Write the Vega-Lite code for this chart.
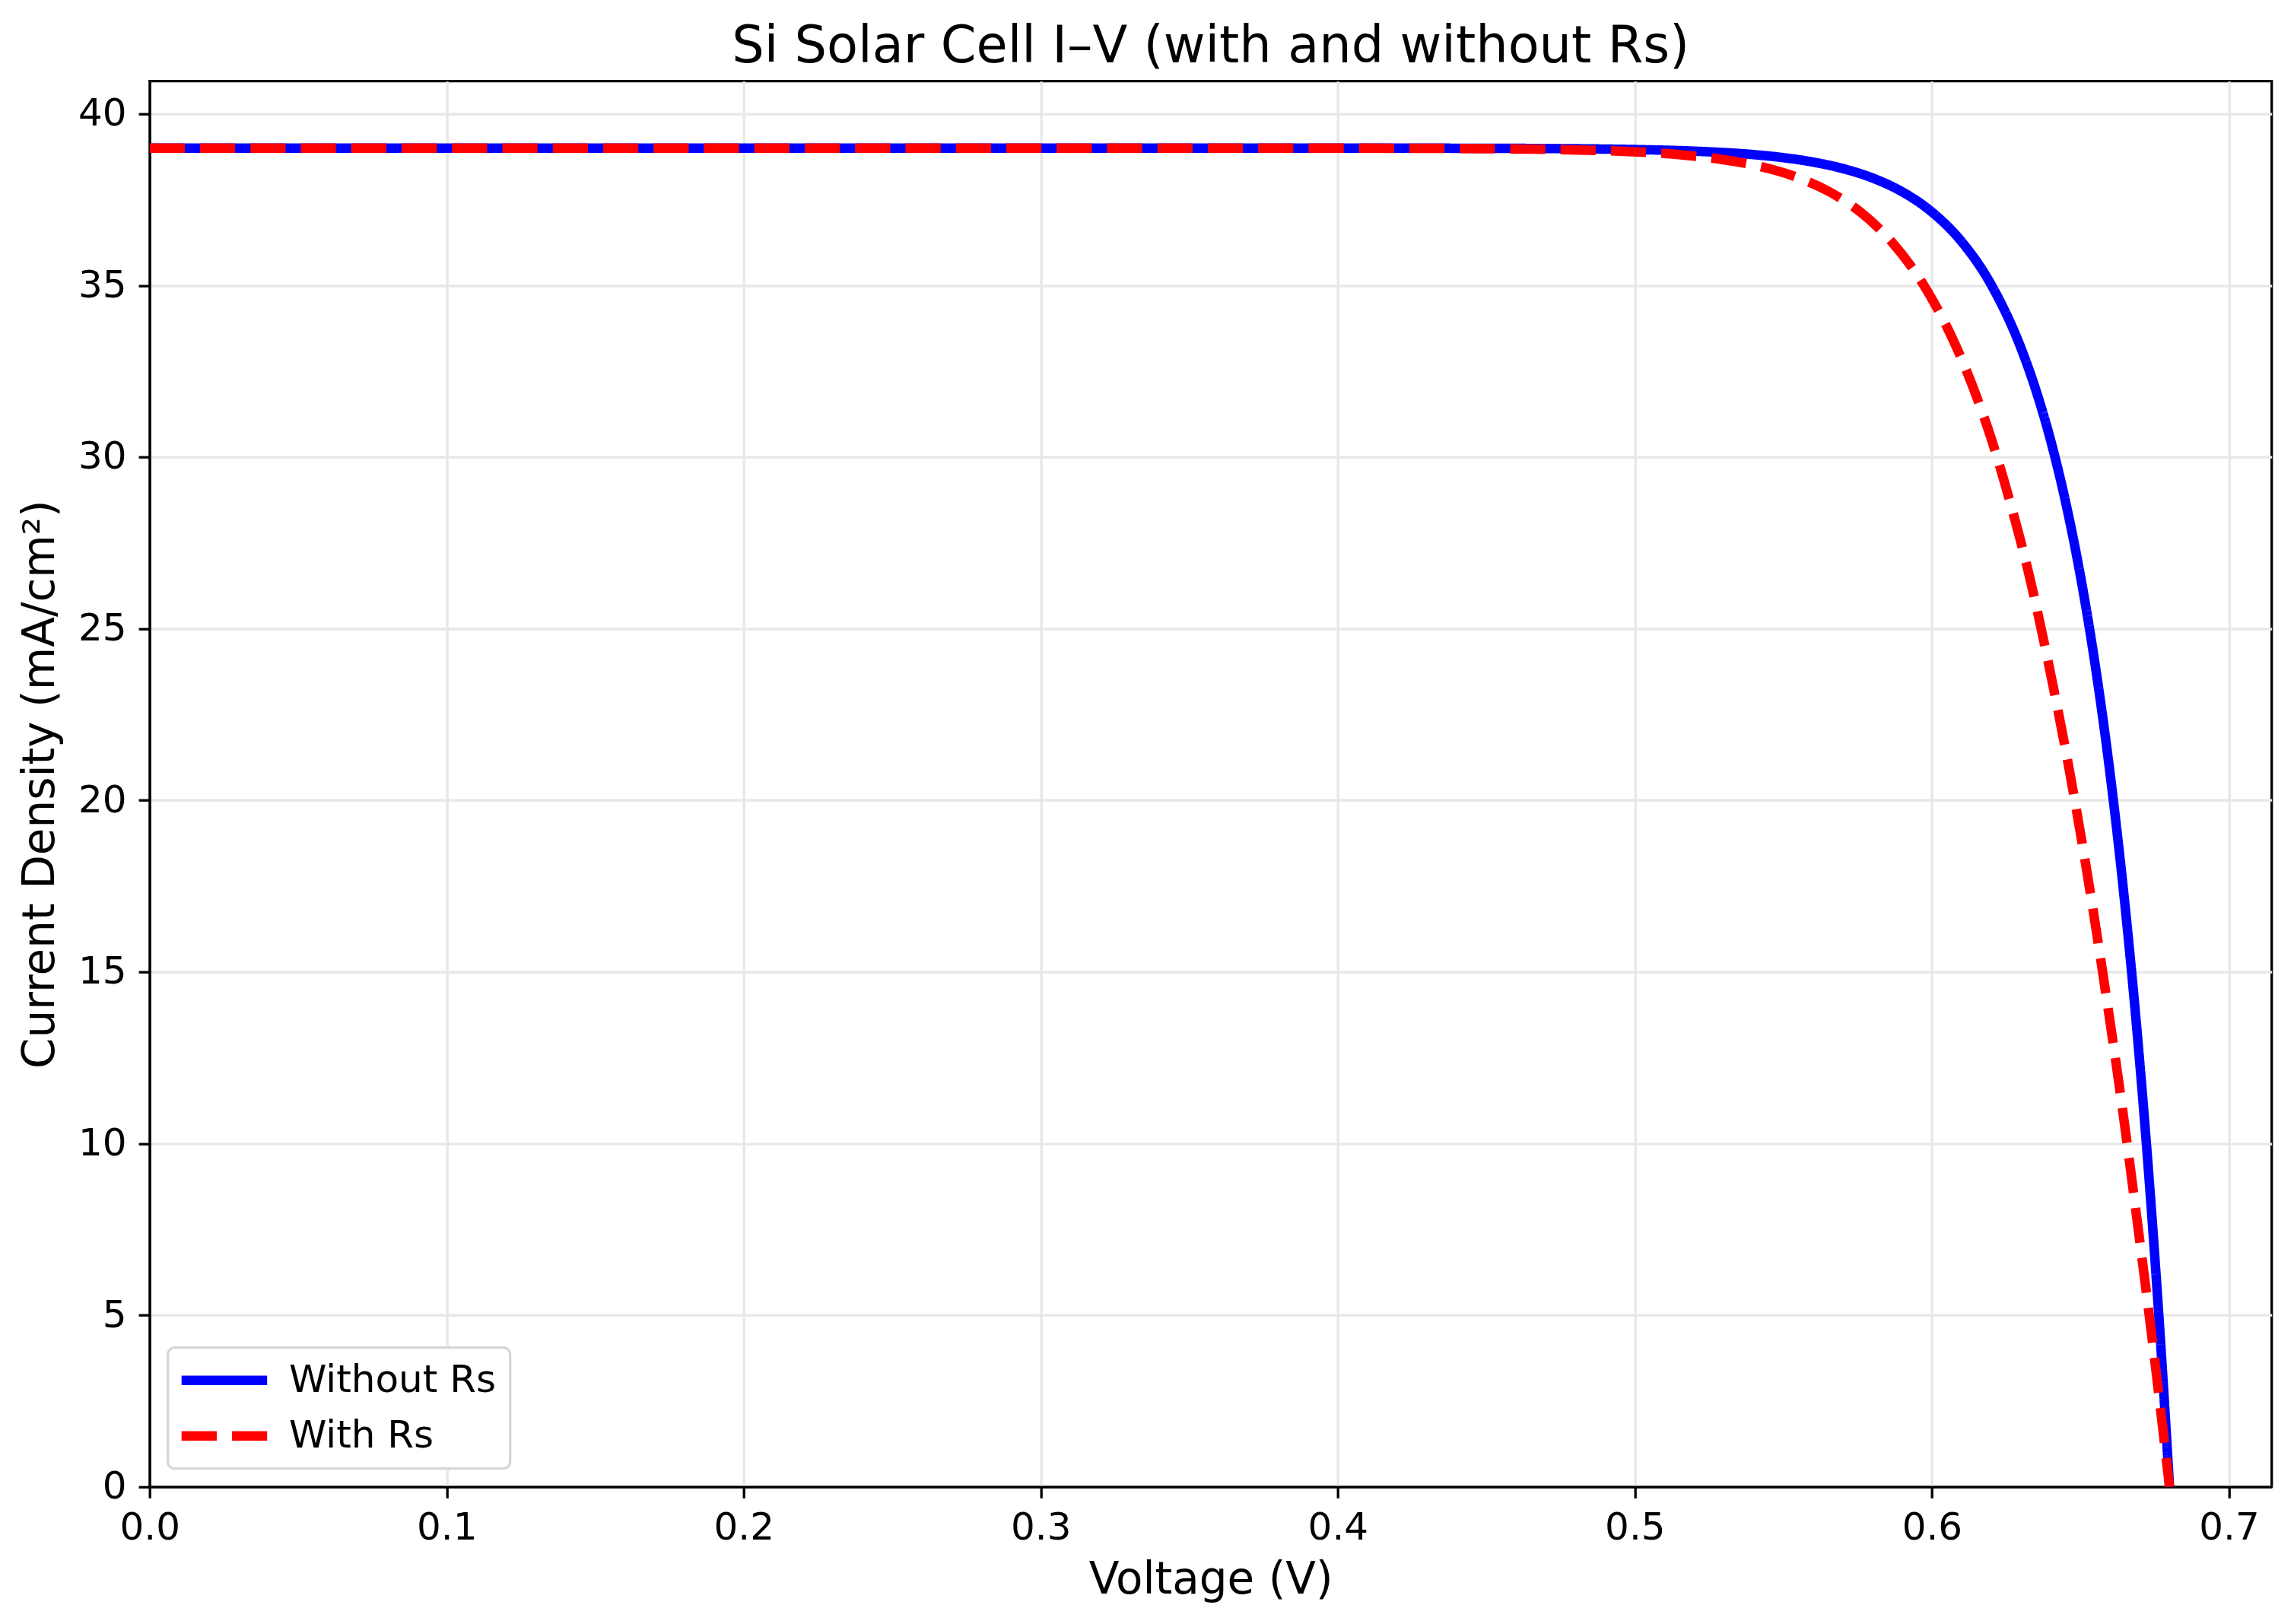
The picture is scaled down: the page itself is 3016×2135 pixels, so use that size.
{
  "$schema": "https://vega.github.io/schema/vega-lite/v6.json",
  "description": "Si solar cell I-V curves with and without series resistance",
  "width": 2790,
  "height": 1848,
  "autosize": {"type": "none"},
  "padding": {"left": 196.7, "top": 106.7, "right": 29.3, "bottom": 180.3},
  "background": "white",
  "title": {
    "text": "Si Solar Cell I–V (with and without Rs)",
    "font": "DejaVu Sans",
    "fontSize": 67,
    "fontWeight": "normal",
    "color": "black",
    "anchor": "middle",
    "frame": "group",
    "offset": 11
  },
  "data": {
    "values": [
      {"series": "Without Rs", "V": 0.0, "J": 39.0},
      {"series": "Without Rs", "V": 0.1, "J": 39.0},
      {"series": "Without Rs", "V": 0.2, "J": 39.0},
      {"series": "Without Rs", "V": 0.3, "J": 39.0},
      {"series": "Without Rs", "V": 0.4, "J": 38.999},
      {"series": "Without Rs", "V": 0.45, "J": 38.994},
      {"series": "Without Rs", "V": 0.48, "J": 38.981},
      {"series": "Without Rs", "V": 0.5, "J": 38.958},
      {"series": "Without Rs", "V": 0.52, "J": 38.911},
      {"series": "Without Rs", "V": 0.54, "J": 38.81},
      {"series": "Without Rs", "V": 0.55, "J": 38.722},
      {"series": "Without Rs", "V": 0.56, "J": 38.593},
      {"series": "Without Rs", "V": 0.57, "J": 38.405},
      {"series": "Without Rs", "V": 0.58, "J": 38.13},
      {"series": "Without Rs", "V": 0.59, "J": 37.727},
      {"series": "Without Rs", "V": 0.6, "J": 37.138},
      {"series": "Without Rs", "V": 0.61, "J": 36.277},
      {"series": "Without Rs", "V": 0.62, "J": 35.015},
      {"series": "Without Rs", "V": 0.63, "J": 33.173},
      {"series": "Without Rs", "V": 0.635, "J": 31.953},
      {"series": "Without Rs", "V": 0.64, "J": 30.478},
      {"series": "Without Rs", "V": 0.645, "J": 28.695},
      {"series": "Without Rs", "V": 0.65, "J": 26.539},
      {"series": "Without Rs", "V": 0.655, "J": 23.927},
      {"series": "Without Rs", "V": 0.66, "J": 20.769},
      {"series": "Without Rs", "V": 0.665, "J": 16.952},
      {"series": "Without Rs", "V": 0.668, "J": 14.29},
      {"series": "Without Rs", "V": 0.671, "J": 11.302},
      {"series": "Without Rs", "V": 0.674, "J": 7.955},
      {"series": "Without Rs", "V": 0.677, "J": 4.205},
      {"series": "Without Rs", "V": 0.68, "J": 0.0},
      {"series": "With Rs", "V": 0.0, "J": 39.0},
      {"series": "With Rs", "V": 0.1, "J": 39.0},
      {"series": "With Rs", "V": 0.2, "J": 39.0},
      {"series": "With Rs", "V": 0.3, "J": 39.0},
      {"series": "With Rs", "V": 0.4, "J": 38.998},
      {"series": "With Rs", "V": 0.4247, "J": 38.994},
      {"series": "With Rs", "V": 0.4547, "J": 38.981},
      {"series": "With Rs", "V": 0.4747, "J": 38.958},
      {"series": "With Rs", "V": 0.4947, "J": 38.911},
      {"series": "With Rs", "V": 0.5148, "J": 38.81},
      {"series": "With Rs", "V": 0.5248, "J": 38.722},
      {"series": "With Rs", "V": 0.5349, "J": 38.593},
      {"series": "With Rs", "V": 0.545, "J": 38.405},
      {"series": "With Rs", "V": 0.5552, "J": 38.13},
      {"series": "With Rs", "V": 0.5655, "J": 37.727},
      {"series": "With Rs", "V": 0.5759, "J": 37.138},
      {"series": "With Rs", "V": 0.5864, "J": 36.277},
      {"series": "With Rs", "V": 0.5972, "J": 35.015},
      {"series": "With Rs", "V": 0.6084, "J": 33.173},
      {"series": "With Rs", "V": 0.6142, "J": 31.953},
      {"series": "With Rs", "V": 0.6202, "J": 30.478},
      {"series": "With Rs", "V": 0.6263, "J": 28.695},
      {"series": "With Rs", "V": 0.6328, "J": 26.539},
      {"series": "With Rs", "V": 0.6394, "J": 23.927},
      {"series": "With Rs", "V": 0.6465, "J": 20.769},
      {"series": "With Rs", "V": 0.654, "J": 16.952},
      {"series": "With Rs", "V": 0.6587, "J": 14.29},
      {"series": "With Rs", "V": 0.6637, "J": 11.302},
      {"series": "With Rs", "V": 0.6688, "J": 7.955},
      {"series": "With Rs", "V": 0.6743, "J": 4.205},
      {"series": "With Rs", "V": 0.68, "J": 0.0}
    ]
  },
  "encoding": {
    "x": {
      "field": "V",
      "type": "quantitative",
      "title": "Voltage (V)",
      "scale": {"domain": [0, 0.7144], "nice": false, "zero": false},
      "axis": {
        "values": [0, 0.1, 0.2, 0.3, 0.4, 0.5, 0.6, 0.7],
        "format": ".1f",
        "labelPadding": 14,
        "titleY": 139.3,
        "titleBaseline": "alphabetic"
      }
    },
    "y": {
      "field": "J",
      "type": "quantitative",
      "title": "Current Density (mA/cm²)",
      "scale": {"domain": [0, 40.95], "nice": false},
      "axis": {
        "values": [0, 5, 10, 15, 20, 25, 30, 35, 40],
        "labelPadding": 16,
        "titleX": -126,
        "titleBaseline": "alphabetic"
      }
    }
  },
  "layer": [
    {
      "transform": [{"filter": "datum.series === 'Without Rs'"}],
      "mark": {"type": "line", "strokeWidth": 12.5, "clip": true, "interpolate": "monotone"},
      "encoding": {
        "color": {
          "datum": "Without Rs",
          "type": "nominal",
          "scale": {"domain": ["Without Rs", "With Rs"], "range": ["#0000ff", "#ff0000"]},
          "legend": {"title": null}
        },
        "strokeDash": {
          "datum": "Without Rs",
          "type": "nominal",
          "scale": {"domain": ["Without Rs", "With Rs"], "range": [[1, 0], [46.25, 20]]},
          "legend": {"title": null}
        }
      }
    },
    {
      "transform": [{"filter": "datum.series === 'With Rs'"}],
      "mark": {"type": "line", "strokeWidth": 12.5, "clip": true, "interpolate": "monotone"},
      "encoding": {
        "color": {"datum": "With Rs", "type": "nominal"},
        "strokeDash": {"datum": "With Rs", "type": "nominal"}
      }
    }
  ],
  "config": {
    "view": {"stroke": "black", "strokeWidth": 3.3},
    "axis": {
      "domainColor": "black",
      "domainWidth": 3.3,
      "tickColor": "black",
      "tickWidth": 3.3,
      "tickSize": 14.6,
      "labelFont": "DejaVu Sans",
      "labelFontSize": 50,
      "labelColor": "black",
      "labelFlush": false,
      "labelOverlap": false,
      "titleFont": "DejaVu Sans",
      "titleFontSize": 58,
      "titleFontWeight": "normal",
      "titleColor": "black",
      "gridColor": "#e7e7e7",
      "gridWidth": 3.3
    },
    "legend": {
      "orient": "bottom-left",
      "offset": 24,
      "padding": 18,
      "fillColor": "white",
      "strokeColor": "#d6d6d6",
      "strokeWidth": 3.3,
      "cornerRadius": 9,
      "labelFont": "DejaVu Sans",
      "labelFontSize": 50,
      "labelColor": "black",
      "labelLimit": 1000,
      "labelOffset": 60,
      "symbolType": "M-3,0H3",
      "symbolSize": 1406.25,
      "symbolOffset": 31.25,
      "symbolStrokeWidth": 12.5,
      "rowPadding": 23
    }
  }
}
